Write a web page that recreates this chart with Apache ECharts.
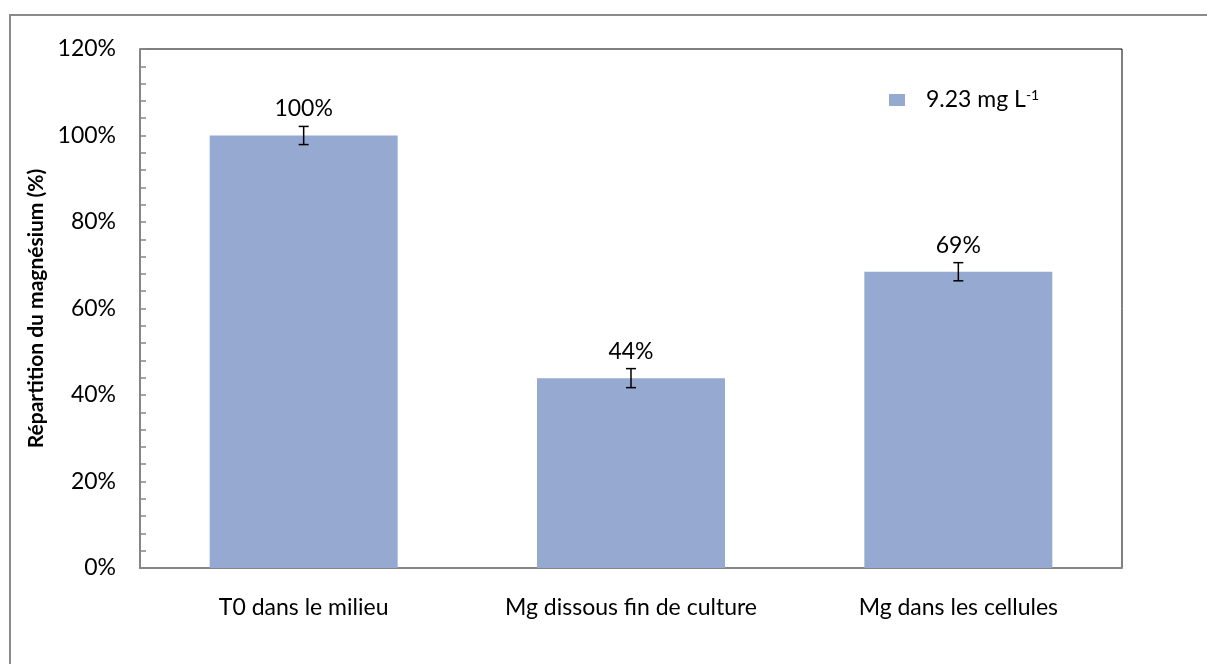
<!DOCTYPE html>
<html>
<head>
<meta charset="utf-8">
<script src="https://cdn.jsdelivr.net/npm/echarts@6/dist/echarts.min.js"></script>
<style>
  html, body { margin: 0; padding: 0; background: #fff; }
  #chart { width: 1207px; height: 664px; }
</style>
</head>
<body>
<div id="chart"></div>
<script>
const categories = ['T0 dans le milieu', 'Mg dissous fin de culture', 'Mg dans les cellules'];
const values = [100, 43.9, 68.5];
const errors = [2.1, 2.2, 2.1];
const seriesName = '9.23 mg L-1';

const FONT = 'Lato, "Liberation Sans", sans-serif';
const FS = 23;
const chart = echarts.init(document.getElementById('chart'));

const option = {
  animation: false,
  textStyle: { fontFamily: FONT },
  graphic: [
    {
      type: 'rect',
      shape: { x: 10, y: 15, width: 1300, height: 700 },
      style: { fill: 'none', stroke: '#8a8a8a', lineWidth: 2 },
      silent: true
    }
  ],
  grid: {
    left: 140, top: 49, right: 85, bottom: 96,
    show: true,
    borderColor: '#000',
    borderWidth: 1
  },
  legend: {
    left: 884,
    top: 83,
    itemWidth: 16,
    itemHeight: 12,
    icon: 'rect',
    data: [seriesName],
    formatter: function () {
      return '{a|9.23 mg L}{s|-1}';
    },
    textStyle: {
      rich: {
        a: { fontSize: FS, color: '#000', fontFamily: FONT, padding: [0, 0, 0, 16] },
        s: { fontSize: 14, color: '#000', fontFamily: FONT, verticalAlign: 'top', padding: [0, 0, 10, 0] }
      }
    }
  },
  xAxis: {
    type: 'category',
    data: categories,
    axisLine: { lineStyle: { color: '#868686', width: 2 } },
    axisTick: { show: false },
    axisLabel: { color: '#000', fontSize: FS, margin: 28, fontFamily: FONT, interval: 0 }
  },
  yAxis: {
    type: 'value',
    min: 0,
    max: 120,
    interval: 20,
    name: 'Répartition du magnésium (%)',
    nameLocation: 'middle',
    nameGap: 64,
    nameTextStyle: { color: '#000', fontSize: 21, fontWeight: 'bold', fontFamily: FONT },
    axisLine: { show: true, lineStyle: { color: '#868686', width: 2 } },
    axisTick: { show: true, inside: true, length: 6, lineStyle: { color: '#868686', width: 1.5 } },
    minorTick: { show: true, splitNumber: 5, length: 6, lineStyle: { color: '#868686', width: 1.5 } },
    splitLine: { show: false },
    axisLabel: {
      color: '#000', fontSize: FS, margin: 24, fontFamily: FONT,
      formatter: function (v) { return v + '%'; }
    }
  },
  series: [
    {
      name: seriesName,
      type: 'bar',
      data: values,
      barWidth: 188,
      itemStyle: { color: '#95A9D1' },
      label: {
        show: true,
        position: 'top',
        distance: 15,
        color: '#000',
        fontSize: FS,
        fontFamily: FONT,
        formatter: function (p) { return Math.round(p.value) + '%'; }
      }
    },
    {
      name: 'err',
      type: 'custom',
      data: values.map(function (v, i) { return [i, v - errors[i], v + errors[i]]; }),
      renderItem: function (params, api) {
        const lo = api.coord([api.value(0), api.value(1)]);
        const hi = api.coord([api.value(0), api.value(2)]);
        const w = 5;
        const style = { stroke: '#000', lineWidth: 1.5 };
        return {
          type: 'group',
          children: [
            { type: 'line', shape: { x1: lo[0], y1: lo[1], x2: hi[0], y2: hi[1] }, style: style },
            { type: 'line', shape: { x1: lo[0] - w, y1: lo[1], x2: lo[0] + w, y2: lo[1] }, style: style },
            { type: 'line', shape: { x1: hi[0] - w, y1: hi[1], x2: hi[0] + w, y2: hi[1] }, style: style }
          ]
        };
      },
      z: 10
    }
  ]
};

chart.setOption(option);
</script>
</body>
</html>
